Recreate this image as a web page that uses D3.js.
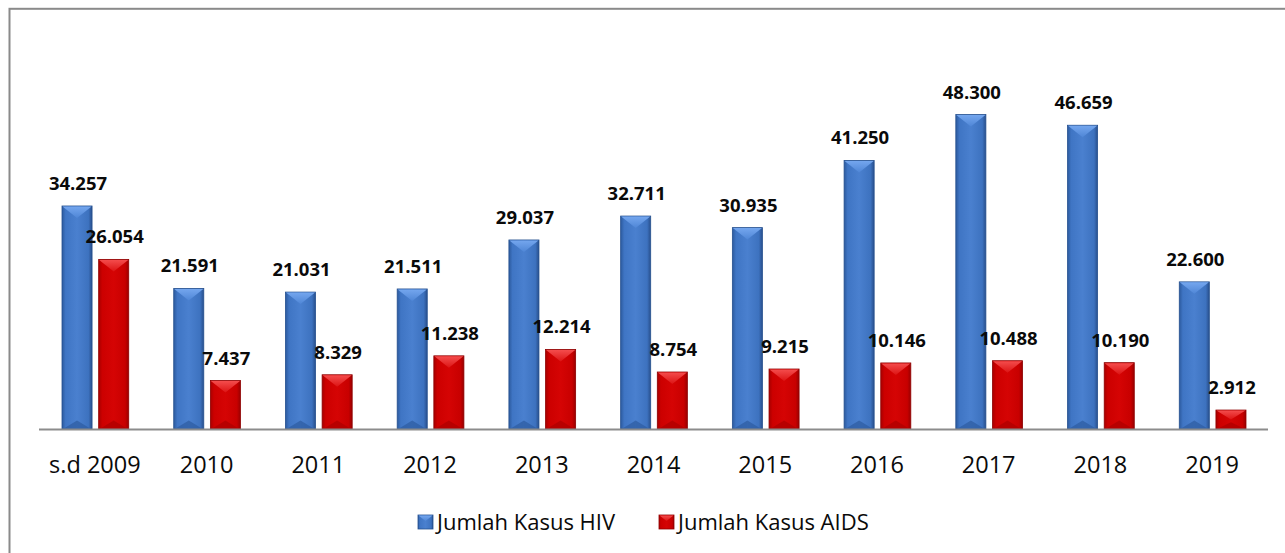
<!DOCTYPE html>
<html>
<head>
<meta charset="utf-8">
<script src="https://cdn.jsdelivr.net/npm/d3@7"></script>
<style>
  body { margin: 0; background: #fff; }
  svg { display: block; }
</style>
</head>
<body>
<div id="graph"></div>
<script>
// data
var categories = ["s.d 2009", "2010", "2011", "2012", "2013", "2014", "2015", "2016", "2017", "2018", "2019"];
var hivValues = [34257, 21591, 21031, 21511, 29037, 32711, 30935, 41250, 48300, 46659, 22600];
var aidsValues = [26054, 7437, 8329, 11238, 12214, 8754, 9215, 10146, 10488, 10190, 2912];
var seriesNames = ["Jumlah Kasus HIV", "Jumlah Kasus AIDS"];

var width = 1285, height = 553;
var baseY = 429;

var chart = d3.select("#graph").append("svg")
    .attr("width", width)
    .attr("height", height);

var defs = chart.append("defs");

// gradients for the bevelled bars
function addGrad(id, stops, horizontal) {
  var g = defs.append("linearGradient").attr("id", id)
      .attr("x1", "0").attr("y1", "0")
      .attr("x2", horizontal ? "1" : "0").attr("y2", horizontal ? "0" : "1");
  stops.forEach(function(s) {
    g.append("stop").attr("offset", s[0]).attr("stop-color", s[1]);
  });
}
addGrad("blueBody", [[0, "#2c5a9e"], [0.12, "#3f75c4"], [0.5, "#4a80cf"], [0.88, "#3d72bf"], [1, "#284f8c"]], true);
addGrad("blueTop", [[0, "#74a6ee"], [1, "#4f86d6"]], false);
addGrad("redBody", [[0, "#a80000"], [0.12, "#cc0000"], [0.5, "#d50404"], [0.88, "#c80000"], [1, "#9a0000"]], true);
addGrad("redTop", [[0, "#f44c4c"], [1, "#dc1414"]], false);

var colors = [
  { body: "url(#blueBody)", top: "url(#blueTop)", edge: "#25508f", bottom: "#2f5fa5" },
  { body: "url(#redBody)", top: "url(#redTop)", edge: "#8e0000", bottom: "#b00000" }
];

// frame (only top and left edges show inside the picture)
chart.append("rect")
    .attr("x", 9.5).attr("y", 8.8)
    .attr("width", 1400).attr("height", 700)
    .attr("fill", "none")
    .attr("stroke", "#8a8a8a")
    .attr("stroke-width", 2);

var xScale = d3.scaleBand()
    .domain(categories)
    .range([39, 1268]);

var xInner = d3.scaleBand()
    .domain([0, 1])
    .range([23, xScale.bandwidth() - 22])
    .paddingInner(0.18);

var yScale = d3.scaleLinear()
    .domain([0, 50000])
    .range([baseY, baseY - 325.5]);

var fmt = d3.formatLocale({ decimal: ",", thousands: ".", grouping: [3], currency: ["", ""] }).format(",d");

var rows = categories.map(function(c, i) {
  return { cat: c, vals: [hivValues[i], aidsValues[i]] };
});

var groups = chart.selectAll("g.cat")
    .data(rows)
    .enter().append("g")
    .attr("class", "cat")
    .attr("transform", function(d) { return "translate(" + xScale(d.cat) + ",0)"; });

var bars = groups.selectAll("g.bar")
    .data(function(d) { return d.vals.map(function(v, s) { return { v: v, s: s }; }); })
    .enter().append("g")
    .attr("class", "bar");

bars.each(function(d) {
  var g = d3.select(this);
  var x = xInner(d.s), w = xInner.bandwidth();
  var y = yScale(d.v), h = baseY - y;
  var c = colors[d.s];
  var bev = Math.min(12, h / 2);
  g.append("rect")
      .attr("x", x).attr("y", y)
      .attr("width", w).attr("height", h)
      .attr("fill", c.body)
      .attr("stroke", c.edge)
      .attr("stroke-width", 0.8);
  // bottom bevel
  g.append("path")
      .attr("d", "M" + (x + 1) + "," + baseY + "L" + (x + w / 2) + "," + (baseY - bev * 0.7) + "L" + (x + w - 1) + "," + baseY + "Z")
      .attr("fill", c.bottom)
      .attr("opacity", 0.8);
  // top bevel (lighter chevron)
  g.append("path")
      .attr("d", "M" + (x + 0.5) + "," + (y + 0.5) + "L" + (x + w - 0.5) + "," + (y + 0.5) + "L" + (x + w / 2) + "," + (y + bev) + "Z")
      .attr("fill", c.top);
});

// value labels
bars.append("text")
    .attr("x", function(d) { return xInner(d.s) + xInner.bandwidth() / 2 + 1; })
    .attr("y", function(d) { return yScale(d.v) - 16; })
    .attr("text-anchor", "middle")
    .attr("font-family", "'Open Sans', sans-serif")
    .attr("font-weight", "bold")
    .attr("font-size", "18.5px")
    .attr("fill", "#0a0a0a")
    .text(function(d) { return fmt(d.v); });

// x axis line
chart.append("line")
    .attr("x1", 39).attr("x2", 1268)
    .attr("y1", baseY + 0.5).attr("y2", baseY + 0.5)
    .attr("stroke", "#8c8c8c")
    .attr("stroke-width", 2);

// category labels
chart.selectAll("text.cat")
    .data(categories)
    .enter().append("text")
    .attr("class", "cat")
    .attr("x", function(d) { return xScale(d) + xScale.bandwidth() / 2; })
    .attr("y", 473)
    .attr("text-anchor", "middle")
    .attr("font-family", "'Open Sans', sans-serif")
    .attr("font-size", "23.5px")
    .attr("fill", "#0a0a0a")
    .text(function(d) { return d; });

// legend
var legendX = [418, 659];
var legend = chart.selectAll("g.legend")
    .data(seriesNames)
    .enter().append("g")
    .attr("class", "legend")
    .attr("transform", function(d, i) { return "translate(" + legendX[i] + ",515)"; });

legend.append("rect")
    .attr("width", 15).attr("height", 14)
    .attr("fill", function(d, i) { return colors[i].body; })
    .attr("stroke", function(d, i) { return colors[i].edge; })
    .attr("stroke-width", 0.8);
legend.append("path")
    .attr("d", "M0.5,0.5L14.5,0.5L7.5,6Z")
    .attr("fill", function(d, i) { return colors[i].top; });

legend.append("text")
    .attr("x", 19)
    .attr("y", 14.5)
    .attr("font-family", "'Open Sans', sans-serif")
    .attr("font-size", "22px")
    .attr("fill", "#0a0a0a")
    .text(function(d) { return d; });
</script>
</body>
</html>
